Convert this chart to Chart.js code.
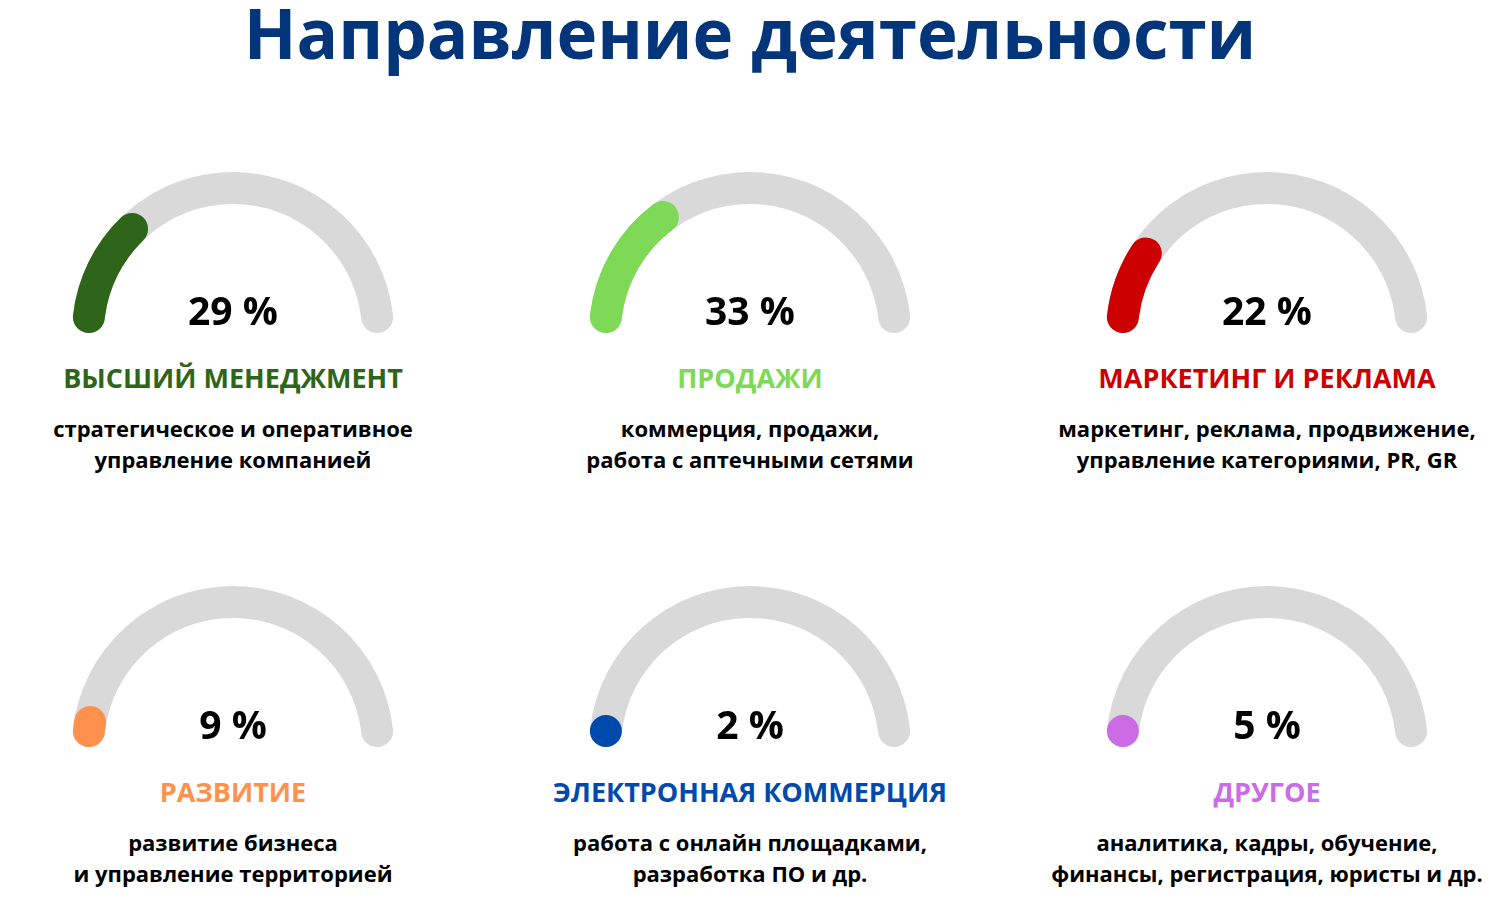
<!DOCTYPE html>
<html lang="ru">
<head>
<meta charset="utf-8">
<title>Направление деятельности</title>
<script src="https://cdn.jsdelivr.net/npm/chart.js@4.4.1/dist/chart.umd.min.js"></script>
<style>
  html, body { margin: 0; padding: 0; background: #fff; }
  body {
    width: 1500px; height: 900px; position: relative; overflow: hidden;
    font-family: "Open Sans", "Noto Sans", sans-serif; font-weight: 700;
  }
  h1 {
    position: absolute; left: 0; top: -2px; width: 1500px; margin: 0;
    text-align: center; font-size: 69px; line-height: 69px; color: #03357a;
  }
  .gauge { position: absolute; width: 322px; height: 163px; }
  .gauge canvas { position: absolute; left: 0; top: 0; }
  .txt { position: absolute; width: 520px; margin-left: -260px; text-align: center; white-space: nowrap; }
  .pct { font-size: 39px; line-height: 39px; color: #000; transform: translateY(-50%); }
  .cat { font-size: 27px; line-height: 27px; transform: translateY(-50%); }
  .desc { font-size: 22px; line-height: 31px; color: #000; }
</style>
</head>
<body>
<h1 id="title">Направление деятельности</h1>

<script>
// --- DATA ---
const categories = [
  'ВЫСШИЙ МЕНЕДЖМЕНТ',
  'ПРОДАЖИ',
  'МАРКЕТИНГ И РЕКЛАМА',
  'РАЗВИТИЕ',
  'ЭЛЕКТРОННАЯ КОММЕРЦИЯ',
  'ДРУГОЕ'
];
const shares = [29, 33, 22, 9, 2, 5];
const descriptions = [
  ['стратегическое и оперативное', 'управление компанией'],
  ['коммерция, продажи,', 'работа с аптечными сетями'],
  ['маркетинг, реклама, продвижение,', 'управление категориями, PR, GR'],
  ['развитие бизнеса', 'и управление территорией'],
  ['работа с онлайн площадками,', 'разработка ПО и др.'],
  ['аналитика, кадры, обучение,', 'финансы, регистрация, юристы и др.']
];
const colors = ['#2f6519', '#7ed957', '#cc0000', '#ff914d', '#004aad', '#cb6ce6'];

// --- LAYOUT ---
const colX = [233, 750, 1267];
const rowY = [333, 747];          // gauge centre (baseline of the half ring)
const OUTER = 161, INNER = 129;
const HALF = (OUTER - INNER) / 2;
const MID = INNER + HALF;
const TRACK = '#d9d9d9';

// a very short arc cannot carry two full round ends, so it is shown as a dot
function isShort(v) {
  return (v / 100) * Math.PI * MID < OUTER - INNER;
}

const dotPlugin = {
  id: 'startDot',
  afterDatasetsDraw(chart, args, opts) {
    if (!opts.enabled) return;
    const arc = chart.getDatasetMeta(0).data[0];
    const p = arc.getProps(['x', 'y', 'startAngle', 'innerRadius', 'outerRadius']);
    const half = (p.outerRadius - p.innerRadius) / 2;
    const mid = p.innerRadius + half;
    const a = p.startAngle + Math.asin(half / mid);
    const c = chart.ctx;
    c.save();
    c.fillStyle = opts.color;
    c.beginPath();
    c.arc(p.x + mid * Math.cos(a), p.y + mid * Math.sin(a), half, 0, Math.PI * 2);
    c.fill();
    c.restore();
  }
};

function gaugeOptions(extraPlugins) {
  return {
    responsive: false,
    animation: false,
    events: [],
    rotation: -90,
    circumference: 180,
    radius: OUTER,
    cutout: (INNER / OUTER * 100) + '%',
    layout: { padding: 0 },
    plugins: Object.assign({ legend: { display: false }, tooltip: { enabled: false } }, extraPlugins || {})
  };
}

function makeCanvas(parent) {
  const cv = document.createElement('canvas');
  cv.width = 322;
  cv.height = 163;
  cv.style.width = '322px';
  cv.style.height = '163px';
  parent.appendChild(cv);
  return cv;
}

function addText(cls, x, y, html, color) {
  const d = document.createElement('div');
  d.className = 'txt ' + cls;
  d.style.left = x + 'px';
  d.style.top = y + 'px';
  if (color) d.style.color = color;
  d.innerHTML = html;
  document.body.appendChild(d);
  return d;
}

categories.forEach((name, i) => {
  const cx = colX[i % 3];
  const cy = rowY[Math.floor(i / 3)];
  const v = shares[i];
  const short = isShort(v);

  const box = document.createElement('div');
  box.className = 'gauge';
  box.style.left = (cx - 161) + 'px';
  box.style.top = (cy - 162) + 'px';
  document.body.appendChild(box);

  // grey track
  new Chart(makeCanvas(box), {
    type: 'doughnut',
    data: { labels: ['track'], datasets: [{ data: [100], backgroundColor: [TRACK], borderWidth: 0, borderRadius: HALF }] },
    options: gaugeOptions()
  });

  // coloured share
  new Chart(makeCanvas(box), {
    type: 'doughnut',
    data: {
      labels: [name, ''],
      datasets: [{
        data: [v, 100 - v],
        backgroundColor: [short ? 'rgba(0,0,0,0)' : colors[i], 'rgba(0,0,0,0)'],
        borderWidth: 0,
        borderRadius: HALF
      }]
    },
    options: gaugeOptions({ startDot: { enabled: short, color: colors[i] } }),
    plugins: [dotPlugin]
  });

  addText('pct', cx, cy - 24, v + ' %');
  addText('cat', cx, cy + 44, name, colors[i]);
  addText('desc', cx, cy + 80, descriptions[i].join('<br>'));
});
</script>
</body>
</html>
